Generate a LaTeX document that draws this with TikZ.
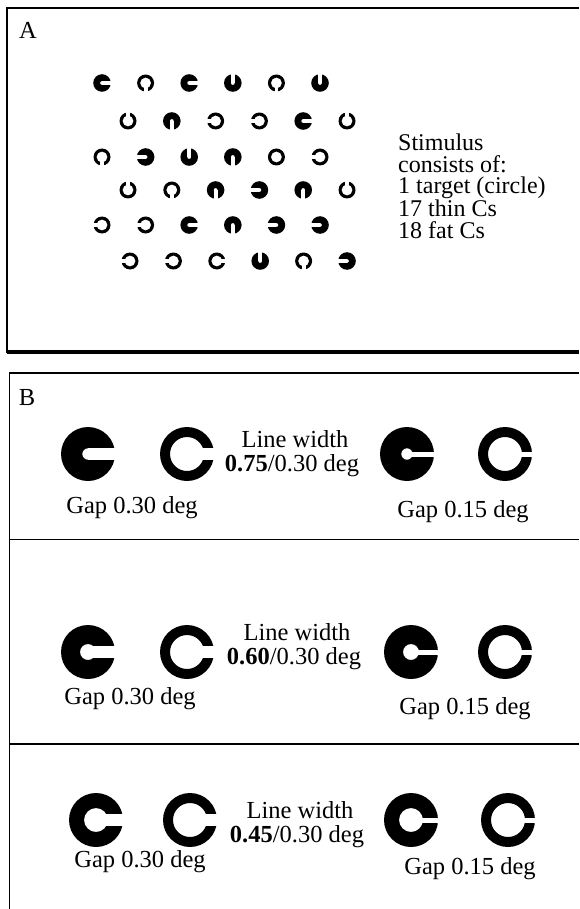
\documentclass[tikz,border=0pt]{standalone}
\usepackage{fontspec}
\setmainfont{Liberation Serif}
\newcommand\myCring[6]{% x y Rout Rin gap angle
  \begin{scope}[shift={(#1,#2)},rotate=#6]
    \fill[black,even odd rule] (0,0) circle[radius=#3] (0,0) circle[radius=#4];
    \fill[white] (0,-#5/2) rectangle (#3+1,#5/2);
  \end{scope}}
\newcommand\smallFat[3]{\myCring{#1}{#2}{8.8}{2}{4}{#3}}
\newcommand\smallThin[3]{\myCring{#1}{#2}{8.5}{5.5}{3.8}{#3}}
\newcommand\smallCirc[3]{\fill[black,even odd rule] (#1,#2) circle[radius=8.5] (#1,#2) circle[radius=5.5];}
\tikzset{
  frameline/.style={line width=1.5pt,black},
  lab/.style={font=\fontsize{24.5}{27}\selectfont,inner sep=0pt},
  stim/.style={font=\fontsize{24}{21.5}\selectfont,inner sep=0pt,align=left},
}
\begin{document}
\begin{tikzpicture}[x=1pt,y=-1pt]
\useasboundingbox (0,0) rectangle (579,909);
% ---- Panel A frame
\draw[frameline] (7,353) -- (7,8) -- (579,8);
\draw[line width=3.5pt] (7,352) -- (579,352);
\node[lab] (labA) at (28,30) {A};
% ---- Panel A grid of Cs
\foreach \m/\a [count=\i from 0] in {\smallFat/0,\smallThin/-90,\smallFat/0,\smallFat/90,\smallThin/-90,\smallFat/90}
  {\m{102+43.6*\i}{83}{\a}}
\foreach \m/\a [count=\i from 0] in {\smallThin/90,\smallFat/-90,\smallThin/180,\smallThin/180,\smallFat/0,\smallThin/90}
  {\m{128+43.8*\i}{121}{\a}}
\foreach \m/\a [count=\i from 0] in {\smallThin/-90,\smallFat/180,\smallFat/90,\smallFat/-90,\smallCirc/0,\smallThin/180}
  {\m{102+43.6*\i}{157}{\a}}
\foreach \m/\a [count=\i from 0] in {\smallThin/90,\smallThin/-90,\smallFat/-90,\smallFat/180,\smallFat/-90,\smallThin/90}
  {\m{128+43.8*\i}{190}{\a}}
\foreach \m/\a [count=\i from 0] in {\smallThin/180,\smallThin/180,\smallFat/0,\smallFat/-90,\smallFat/180,\smallFat/180}
  {\m{102+43.6*\i}{225}{\a}}
\foreach \m/\a [count=\i from 0] in {\smallThin/180,\smallThin/180,\smallThin/0,\smallFat/90,\smallThin/-90,\smallFat/180}
  {\m{130+43.4*\i}{261}{\a}}
% ---- Panel A text
\node[stim,anchor=north west] (stimtext) at (398,134)
  {Stimulus\\consists of:\\1 target (circle)\\17 thin Cs\\18 fat Cs};
% ---- Panel B frame
\draw[frameline] (9.5,909) -- (9.5,373) -- (579,373);
\draw[frameline] (9.5,539.5) -- (579,539.5);
\draw[frameline] (9.5,744) -- (579,744);
\node[lab] (labB) at (27,398) {B};
% ---- Row 1 (0.75)
\myCring{88}{454}{27}{5.75}{11.5}{0}
\myCring{187}{454}{27}{17}{11.5}{0}
\myCring{407}{454}{27}{5.75}{5}{0}
\myCring{505}{454}{27}{17}{5}{0}
\node[lab,anchor=base] (lw1) at (295,447) {Line width};
\node[lab,anchor=base] (v1) at (292,471) {\textbf{0.75}/0.30 deg};
\node[lab,anchor=base] (g1a) at (132,513) {Gap 0.30 deg};
\node[lab,anchor=base] (g1b) at (463,517) {Gap 0.15 deg};
% ---- Row 2 (0.60)
\myCring{88}{652}{27}{8}{11.5}{0}
\myCring{187}{652}{27}{17}{11.5}{0}
\myCring{411}{652}{27}{8}{5}{0}
\myCring{505}{652}{27}{17}{5}{0}
\node[lab,anchor=base] (lw2) at (297,640) {Line width};
\node[lab,anchor=base] (v2) at (294,664) {\textbf{0.60}/0.30 deg};
\node[lab,anchor=base] (g2a) at (130,704) {Gap 0.30 deg};
\node[lab,anchor=base] (g2b) at (465,714) {Gap 0.15 deg};
% ---- Row 3 (0.45)
\myCring{96}{820}{27}{12}{11.5}{0}
\myCring{190}{820}{27}{17}{11.5}{0}
\myCring{411}{820}{27}{12}{5}{0}
\myCring{508}{820}{27}{17}{5}{0}
\node[lab,anchor=base] (lw3) at (300,818) {Line width};
\node[lab,anchor=base] (v3) at (297,842) {\textbf{0.45}/0.30 deg};
\node[lab,anchor=base] (g3a) at (140,867) {Gap 0.30 deg};
\node[lab,anchor=base] (g3b) at (470,874) {Gap 0.15 deg};
\end{tikzpicture}
\end{document}
